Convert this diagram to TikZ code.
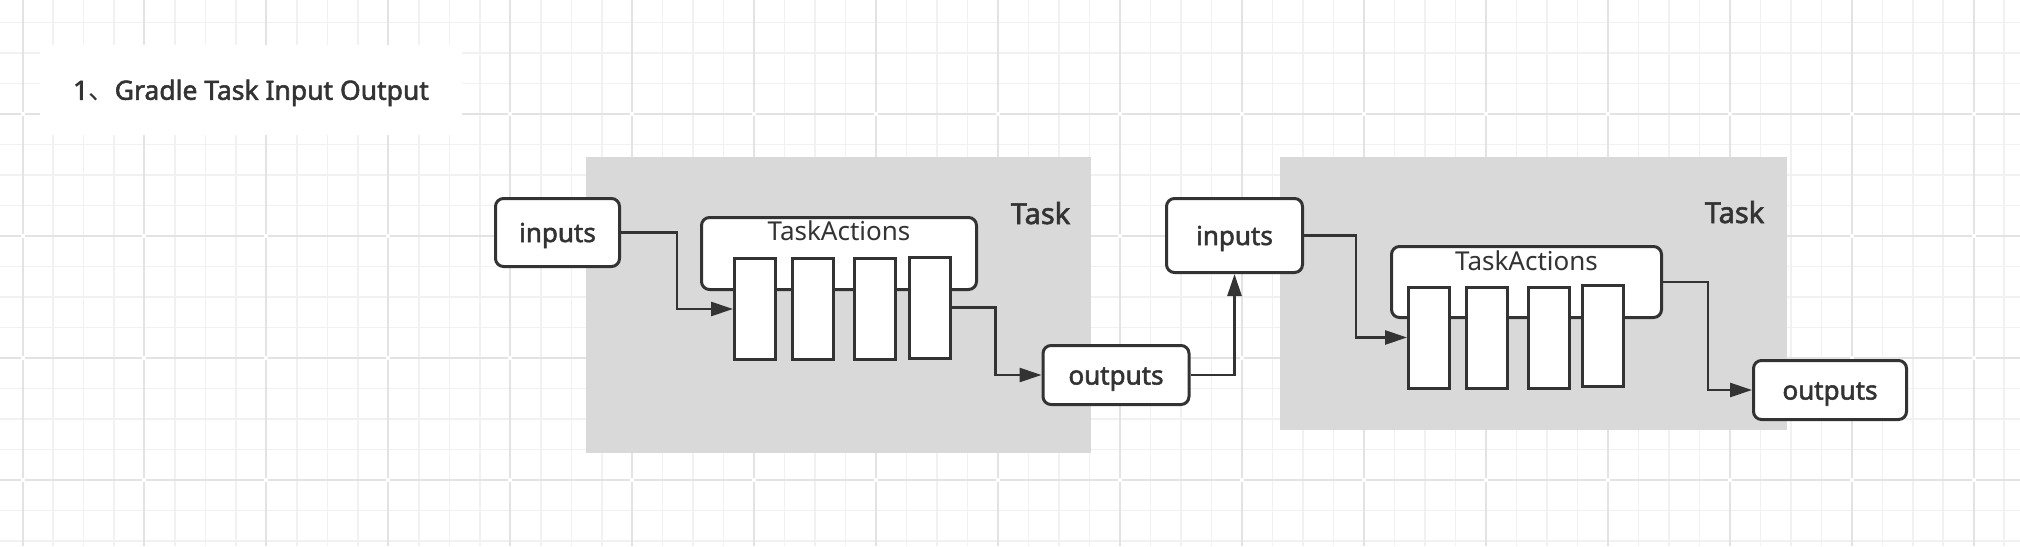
\documentclass[tikz,border=0pt]{standalone}
\usepackage{fontspec}
\setmainfont{Noto Sans}[FakeBold=2]
\newfontfamily\regfont{Noto Sans}
\newfontfamily\cjk{Noto Sans CJK SC}
\usetikzlibrary{arrows.meta,calc}
\definecolor{gridminor}{HTML}{F1F1F1}
\definecolor{gridmajor}{HTML}{E3E3E3}
\definecolor{taskgray}{HTML}{D9D9D9}
\definecolor{ink}{HTML}{333333}
\begin{document}
\begin{tikzpicture}[x=1pt,y=-1pt,
  txt/.style={text height=#1,text depth=0pt},
  box/.style={draw=ink,fill=white,line width=3pt,rounded corners=8pt,inner sep=0pt,
    font=\fontsize{26}{30}\selectfont,text=ink,txt=19pt},
  bar/.style={draw=ink,fill=white,line width=3pt,minimum width=41pt,minimum height=101pt,inner sep=0pt},
  taskbg/.style={fill=taskgray,draw=none,inner sep=0pt},
  arr/.style={draw=ink,line width=2.7pt,-{Triangle[length=22pt,width=14pt]}},
  tasklbl/.style={text=ink,inner sep=0pt,font=\fontsize{29}{34}\selectfont,txt=21pt},
  talbl/.style={text=ink,inner sep=0pt,font=\regfont\fontsize{26}{30}\selectfont,txt=19pt}]
\useasboundingbox (0,0) rectangle (2020,546);
\fill[white] (0,0) rectangle (2020,546);
% grid
\foreach \k in {0,...,65} {\pgfmathsetmacro\gx{22.5+30.4875*\k}
  \draw[gridminor,line width=1.5pt] (\gx,0) -- (\gx,546);}
\foreach \k in {-3,...,14} {\pgfmathsetmacro\gy{114.15+30.4875*\k}
  \draw[gridminor,line width=1.5pt] (0,\gy) -- (2020,\gy);}
\foreach \k in {0,...,16} {\pgfmathsetmacro\gx{22.5+121.95*\k}
  \draw[gridmajor,line width=2pt] (\gx,0) -- (\gx,546);}
\foreach \k in {0,...,3} {\pgfmathsetmacro\gy{114.15+121.95*\k}
  \draw[gridmajor,line width=2pt] (0,\gy) -- (2020,\gy);}
\foreach \i in {0,...,16} {\foreach \j in {0,...,3} {
  \pgfmathsetmacro\gx{22.5+121.95*\i}\pgfmathsetmacro\gy{114.15+121.95*\j}
  \fill[white] (\gx-2,\gy-2) rectangle (\gx+2,\gy+2);}}
% title
\node[fill=white,inner sep=0pt,minimum width=422pt,minimum height=90pt] (titlebox) at (251,90) {};
\node[text=ink,inner sep=0pt,txt=19.5pt,font=\fontsize{26.5}{30}\selectfont] (title) at (251,90)
  {1{\cjk 、}Gradle Task Input Output};
% task backgrounds
\node[taskbg,minimum width=505pt,minimum height=296pt] (task1) at (838.5,305) {};
\node[taskbg,minimum width=507pt,minimum height=273pt] (task2) at (1533.5,293.5) {};
\node[tasklbl] (task1lbl) at (1040.5,213.5) {Task};
\node[tasklbl] (task2lbl) at (1734.5,212.5) {Task};
% first task
\node[box,minimum width=124pt,minimum height=68pt] (in1) at (557.5,232.5) {inputs};
\node[box,minimum width=275pt,minimum height=72pt] (ta1) at (839,253.5) {};
\node[talbl] (ta1lbl) at ([yshift=-15pt]ta1.north) {TaskActions};
\node[bar] (b11) at (755,309) {};
\node[bar] (b12) at (813,309) {};
\node[bar] (b13) at (874.5,309) {};
\node[bar] (b14) at (929.5,307.5) {};
\node[box,minimum width=146pt,minimum height=59pt] (out1) at (1116,375) {outputs};
% second task
\node[box,minimum width=136pt,minimum height=74pt] (in2) at (1234.5,235.5) {inputs};
\node[box,minimum width=270pt,minimum height=71pt] (ta2) at (1526.5,282) {};
\node[talbl] (ta2lbl) at ([yshift=-16pt]ta2.north) {TaskActions};
\node[bar] (b21) at (1429,337.5) {};
\node[bar] (b22) at (1486.5,337.5) {};
\node[bar] (b23) at (1549,337.5) {};
\node[bar] (b24) at (1603,336) {};
\node[box,minimum width=153pt,minimum height=59pt] (out2) at (1830,390) {outputs};
% connectors
\draw[arr] (in1.east) -| ([xshift=-56pt]b11.west) -- (b11.west);
\draw[arr] (b14.east) -| ([xshift=-46pt]out1.west) -- (out1.west);
\draw[arr] (out1.east) -| (in2.south);
\draw[arr] (in2.east) -| ([xshift=-51pt]b21.west) -- (b21.west);
\draw[arr] (ta2.east) -| ([xshift=-44pt]out2.west) -- (out2.west);
\end{tikzpicture}
\end{document}
